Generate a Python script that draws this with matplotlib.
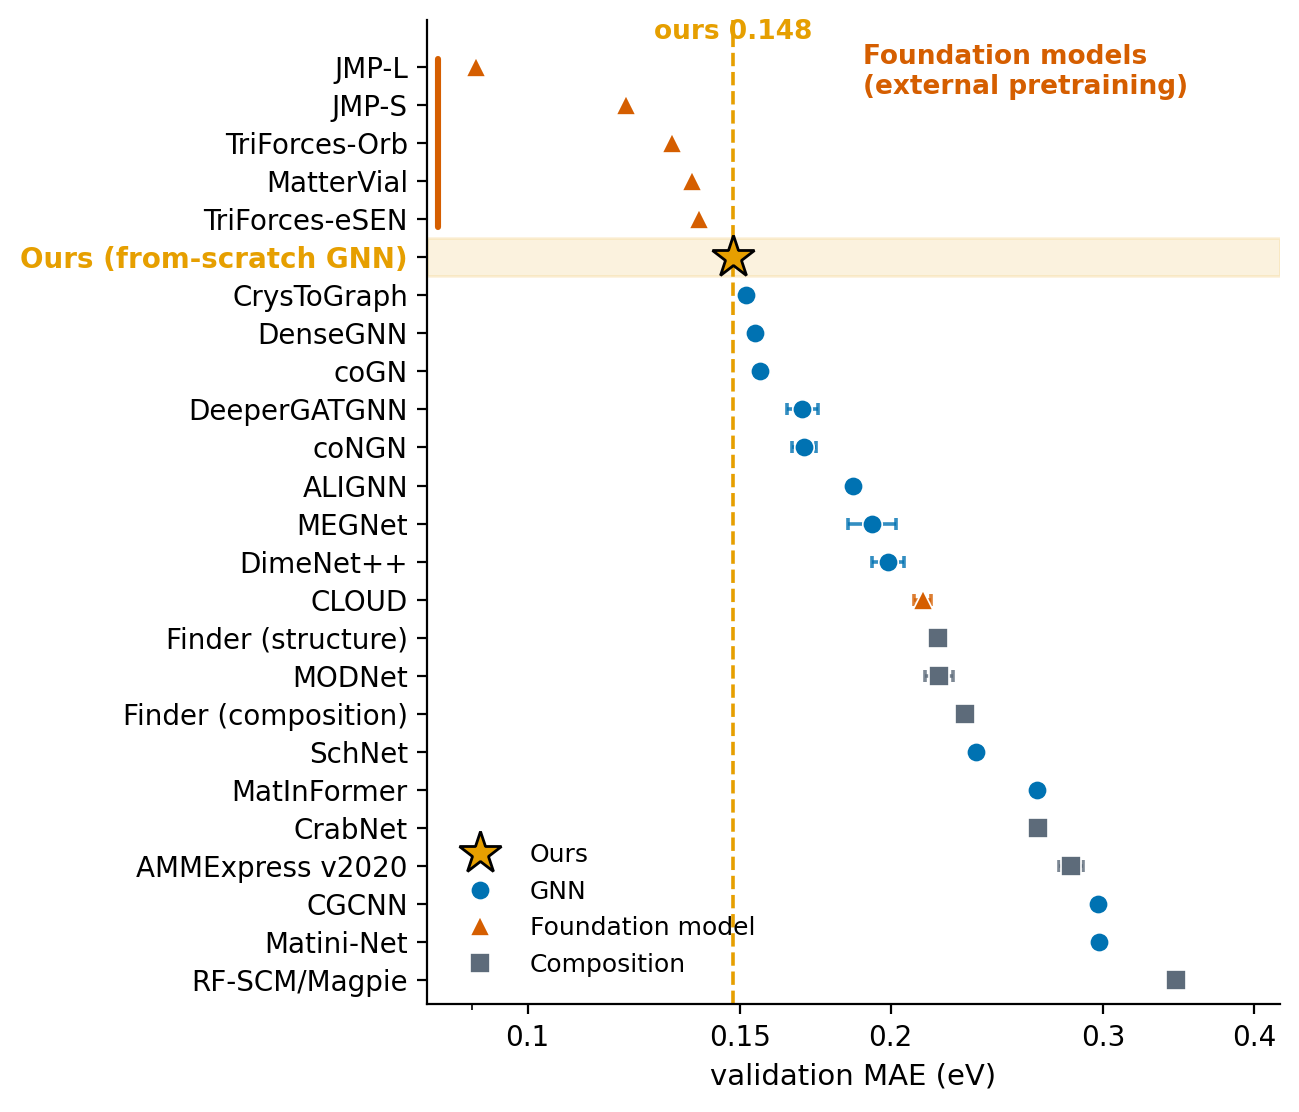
import matplotlib
matplotlib.use("Agg")
import matplotlib.pyplot as plt
import matplotlib.ticker as mticker
import matplotlib.transforms as mtransforms

# models, top to bottom
models = ["JMP-L", "JMP-S", "TriForces-Orb", "MatterVial", "TriForces-eSEN",
          "Ours (from-scratch GNN)", "CrysToGraph", "DenseGNN", "coGN",
          "DeeperGATGNN", "coNGN", "ALIGNN", "MEGNet", "DimeNet++", "CLOUD",
          "Finder (structure)", "MODNet", "Finder (composition)", "SchNet",
          "MatInFormer", "CrabNet", "AMMExpress v2020", "CGCNN", "Matini-Net",
          "RF-SCM/Magpie"]
kinds = ["found", "found", "found", "found", "found",
         "ours", "gnn", "gnn", "gnn",
         "gnn", "gnn", "gnn", "gnn", "gnn", "found",
         "comp", "comp", "comp", "gnn",
         "gnn", "comp", "comp", "gnn", "gnn",
         "comp"]
mae = [0.0906, 0.1206, 0.1317, 0.1368, 0.1386,
       0.148, 0.1518, 0.1545, 0.1557,
       0.169, 0.1694, 0.186, 0.1931, 0.199, 0.2125,
       0.2189, 0.2193, 0.2305, 0.2353,
       0.2646, 0.2650, 0.2820, 0.2972, 0.2978,
       0.3446]
err = [0, 0, 0, 0, 0,
       0, 0, 0, 0,
       0.0050, 0.0039, 0.0008, 0.0089, 0.0062, 0.0035,
       0, 0.0058, 0, 0,
       0, 0, 0.0065, 0, 0,
       0]
ours_mae = 0.148

styles = {
    "ours": dict(marker="*", color="#E69F00", ms=16, mec="black", mew=1.0, label="Ours"),
    "gnn": dict(marker="o", color="#0072B2", ms=7, mec="white", mew=0.6, label="GNN"),
    "found": dict(marker="^", color="#D55E00", ms=7.4, mec="white", mew=0.6, label="Foundation model"),
    "comp": dict(marker="s", color="#5D6B7A", ms=7.2, mec="white", mew=0.6, label="Composition"),
}

plt.rcParams["font.family"] = "DejaVu Sans"
fig = plt.figure(figsize=(6.495, 5.56), dpi=200)
ax = fig.add_axes([0.329, 0.097, 0.656, 0.885])

ypos = list(range(len(models)))
i_ours = kinds.index("ours")
ax.axhspan(i_ours - 0.5, i_ours + 0.5, color="#E69F00", alpha=0.13, lw=1, zorder=0)
ax.axvline(ours_mae, color="#E69F00", ls="--", lw=1.3, zorder=1)

for i in ypos:
    st = styles[kinds[i]]
    if err[i] > 0:
        ax.errorbar(mae[i], i, xerr=err[i], fmt="none", ecolor=st["color"],
                    alpha=0.8, elinewidth=1.3, capsize=2.2, capthick=1.3, zorder=2)
    ax.plot(mae[i], i, ls="none", marker=st["marker"], color=st["color"],
            ms=st["ms"], mec=st["mec"], mew=st["mew"], zorder=4 if kinds[i] == "ours" else 3)

# bracket for the foundation models
found_idx = [i for i in ypos if kinds[i] == "found" and i < i_ours]
trans = mtransforms.blended_transform_factory(ax.transAxes, ax.transData)
ax.plot([0.013, 0.013], [found_idx[0] - 0.2, found_idx[-1] + 0.2], transform=trans,
        color="#D55E00", lw=2.2, solid_capstyle="round", clip_on=False)
ax.text(0.511, -0.6, "Foundation models\n(external pretraining)", transform=trans,
        ha="left", va="top", color="#D55E00", fontweight="bold", fontsize=9.5)
ax.text(ours_mae, -0.92, f"ours {ours_mae}", ha="center", va="center",
        color="#E69F00", fontweight="bold", fontsize=9.5)

ax.set_xscale("log")
ax.set_xlim(0.0826, 0.420)
ax.xaxis.set_major_locator(mticker.FixedLocator([0.1, 0.15, 0.2, 0.3, 0.4]))
ax.xaxis.set_major_formatter(mticker.FixedFormatter(["0.1", "0.15", "0.2", "0.3", "0.4"]))
ax.xaxis.set_minor_formatter(mticker.NullFormatter())
ax.set_ylim(24.63, -1.235)
ax.set_yticks(ypos)
ax.set_yticklabels(models)
for i, lab in enumerate(ax.get_yticklabels()):
    if kinds[i] == "ours":
        lab.set_color("#E69F00")
        lab.set_fontweight("bold")
ax.tick_params(labelsize=10)
ax.set_xlabel("validation MAE (eV)", fontsize=10.5)
ax.spines["top"].set_visible(False)
ax.spines["right"].set_visible(False)

handles = []
for k in ["ours", "gnn", "found", "comp"]:
    st = styles[k]
    h, = ax.plot([], [], ls="none", marker=st["marker"], color=st["color"], ms=st["ms"],
                 mec=st["mec"], mew=st["mew"], label=st["label"])
    handles.append(h)
ax.legend(handles=handles, loc="lower left", frameon=False, fontsize=9,
          borderaxespad=0.7, handletextpad=1.0)

fig.savefig("out.png", dpi=200)
